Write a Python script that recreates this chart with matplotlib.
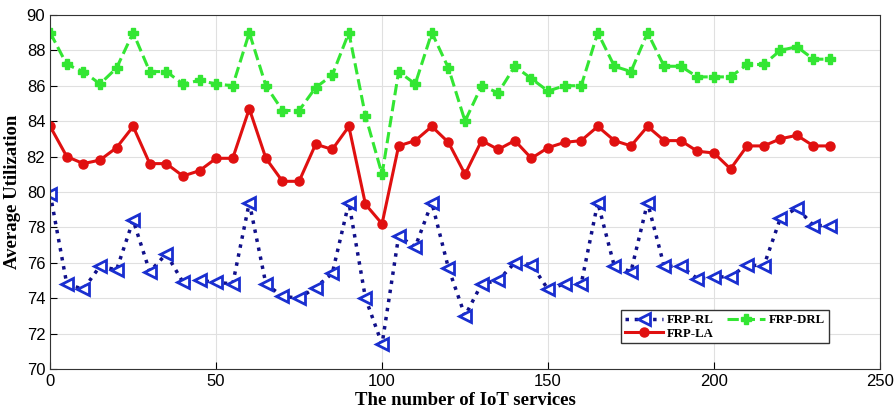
import matplotlib
matplotlib.use('Agg')
import matplotlib.pyplot as plt
import numpy as np

x = np.arange(0, 240, 5)

frp_rl = [79.9, 74.8, 74.5, 75.8, 75.6, 78.4, 75.5, 76.5, 74.9, 75.0,
          74.9, 74.8, 79.4, 74.8, 74.1, 74.0, 74.6, 75.4, 79.4, 74.0,
          71.4, 77.5, 76.9, 79.4, 75.7, 73.0, 74.8, 75.0, 76.0, 75.9,
          74.5, 74.8, 74.8, 79.4, 75.8, 75.5, 79.4, 75.8, 75.8, 75.1,
          75.2, 75.2, 75.9, 75.8, 78.5, 79.1, 78.1, 78.1]

frp_la = [83.7, 82.0, 81.6, 81.8, 82.5, 83.7, 81.6, 81.6, 80.9, 81.2,
          81.9, 81.9, 84.7, 81.9, 80.6, 80.6, 82.7, 82.4, 83.7, 79.3,
          78.2, 82.6, 82.9, 83.7, 82.8, 81.0, 82.9, 82.4, 82.9, 81.9,
          82.5, 82.8, 82.9, 83.7, 82.9, 82.6, 83.7, 82.9, 82.9, 82.3,
          82.2, 81.3, 82.6, 82.6, 83.0, 83.2, 82.6, 82.6]

frp_drl = [89.0, 87.2, 86.8, 86.1, 87.0, 89.0, 86.8, 86.8, 86.1, 86.3,
           86.1, 86.0, 89.0, 86.0, 84.6, 84.6, 85.9, 86.6, 89.0, 84.3,
           81.0, 86.8, 86.1, 89.0, 87.0, 84.0, 86.0, 85.6, 87.1, 86.4,
           85.7, 86.0, 86.0, 89.0, 87.1, 86.8, 89.0, 87.1, 87.1, 86.5,
           86.5, 86.5, 87.2, 87.2, 88.0, 88.2, 87.5, 87.5]

serif = ['Liberation Serif', 'DejaVu Serif']
plt.rcParams['font.family'] = ['Liberation Sans', 'DejaVu Sans']

fig = plt.figure(figsize=(8.96, 4.15), dpi=100)
ax = fig.add_axes([0.056, 0.111, 0.926, 0.853])

l1, = ax.plot(x, frp_rl, ':', color='#10108a', lw=2.5, marker='<', ms=8.5,
              mfc='white', mec='#1a2fd0', mew=2, label='FRP-RL')
l2, = ax.plot(x, frp_la, '-', color='#e01010', lw=2.2, marker='o', ms=6.5,
              mfc='#e01010', mec='#e01010', label='FRP-LA')
l3, = ax.plot(x, frp_drl, '--', color='#33e633', lw=2.2, marker='P', ms=7,
              mfc='#33e633', mec='#33e633', label='FRP-DRL')

ax.set_xlim(0, 250)
ax.set_ylim(70, 90)
ax.set_xticks(np.arange(0, 251, 50))
ax.set_yticks(np.arange(70, 91, 2))
ax.grid(True, color='#e0e0e0', lw=0.8)
ax.set_axisbelow(True)
ax.tick_params(direction='in', labelsize=12, length=5)
for s in ax.spines.values():
    s.set_color('#333333')

ax.set_xlabel('The number of IoT services', fontsize=13.5, fontweight='bold',
              family=serif, labelpad=2)
ax.set_ylabel('Average Utilization', fontsize=13.5, fontweight='bold',
              family=serif, labelpad=4)

leg = ax.legend(handles=[l1, l2, l3], ncol=2, loc='lower left',
                bbox_to_anchor=(0.688, 0.072), fancybox=False, framealpha=1,
                edgecolor='#333333', borderpad=0.3, labelspacing=0.12,
                columnspacing=1.0, handlelength=3.0, handletextpad=0.3,
                borderaxespad=0,
                prop={'family': serif, 'weight': 'bold', 'size': 9.2})

fig.savefig('out.png', dpi=100)
